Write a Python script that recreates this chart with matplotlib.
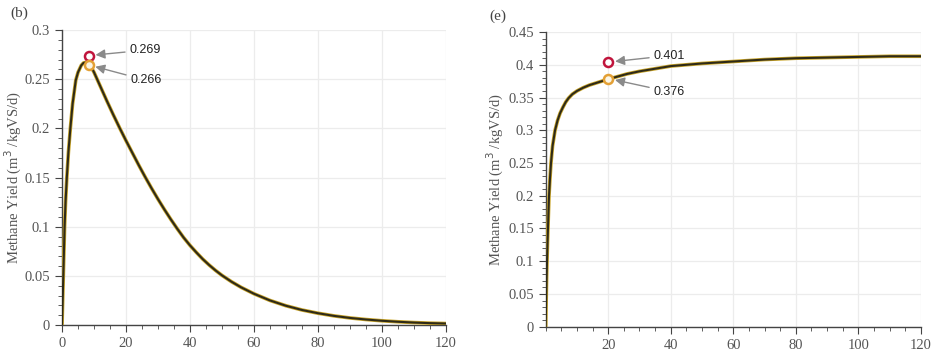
import matplotlib
matplotlib.use('Agg')
import matplotlib.pyplot as plt
from matplotlib.ticker import MultipleLocator, FixedLocator

# (b) 左パネル: ピーク後に減衰する曲線
days_b = [0, 0.2, 0.4, 0.6, 0.8, 1.1, 1.5, 2.0, 2.6, 3.3, 4.3, 5.0, 6.0, 6.7,
          7.3, 8.0, 9.0, 10.0, 12.0, 14.0, 16.0, 18.0, 20.0, 22.0, 24.0, 26.0,
          28.0, 30.0, 32.0, 34.0, 36.0, 38.0, 40.0, 42.0, 44.0, 46.0, 48.0,
          50.0, 53.0, 56.0, 60.0, 65.0, 70.0, 75.0, 80.0, 85.0, 90.0, 95.0,
          100.0, 105.0, 110.0, 115.0, 120.0]
yield_b = [0, 0.025, 0.05, 0.075, 0.10, 0.125, 0.15, 0.176, 0.20, 0.225, 0.249,
           0.257, 0.264, 0.2665, 0.267, 0.2667, 0.263, 0.257, 0.2425, 0.228,
           0.214, 0.2005, 0.1875, 0.175, 0.1625, 0.1505, 0.139, 0.128, 0.1175,
           0.1075, 0.098, 0.089, 0.081, 0.0738, 0.067, 0.061, 0.0555, 0.0505,
           0.044, 0.0383, 0.0318, 0.025, 0.0196, 0.0153, 0.012, 0.0093, 0.0072,
           0.0056, 0.0043, 0.0033, 0.0025, 0.0019, 0.0015]
marks_b_x = [8.3, 8.3]
marks_b_y = [0.274, 0.2645]
labels_b = ['0.269', '0.266']

# (e) 右パネル: 飽和する曲線
days_e = [0, 0.1, 0.2, 0.3, 0.43, 0.6, 0.8, 1.07, 1.4, 1.7, 2.2, 3.0, 3.8, 4.6,
          5.5, 6.4, 7.3, 8.5, 10.0, 12.0, 14.0, 16.0, 18.0, 20.0, 23.0, 26.0,
          30.0, 35.0, 40.0, 45.0, 50.0, 60.0, 70.0, 80.0, 90.0, 100.0, 110.0,
          120.0]
yield_e = [0, 0.025, 0.05, 0.075, 0.10, 0.13, 0.16, 0.20, 0.228, 0.25, 0.276,
           0.30, 0.315, 0.326, 0.335, 0.343, 0.349, 0.355, 0.36, 0.365, 0.369,
           0.372, 0.375, 0.378, 0.382, 0.386, 0.390, 0.394, 0.398, 0.400, 0.402,
           0.405, 0.408, 0.410, 0.411, 0.412, 0.413, 0.413]
marks_e_x = [20, 20]
marks_e_y = [0.404, 0.379]
labels_e = ['0.401', '0.376']

SERIF = ['Liberation Serif', 'DejaVu Serif']
SANS = ['Liberation Sans', 'DejaVu Sans']
TICK_COLOR = '#555555'
MARK_COLORS = ['#c0143c', '#e3a035']
MARK_FACES = ['white', '#fbf6e6']


def style_axes(ax, ymax, ystep, xticks, label_x):
    ax.set_xlim(0, 120)
    ax.set_ylim(0, ymax)
    ax.xaxis.set_major_locator(FixedLocator(xticks))
    ax.xaxis.set_minor_locator(MultipleLocator(5))
    ax.yaxis.set_major_locator(MultipleLocator(ystep))
    ax.yaxis.set_minor_locator(MultipleLocator(0.01))
    ax.grid(True, which='major', color='#ececec', lw=0.9)
    ax.set_axisbelow(True)
    for s in ['top', 'right']:
        ax.spines[s].set_visible(False)
    for s in ['left', 'bottom']:
        ax.spines[s].set_color('#444444')
        ax.spines[s].set_linewidth(1.0)
    ax.tick_params(which='major', length=5, color='#444444', labelcolor=TICK_COLOR,
                   labelsize=10.5)
    ax.tick_params(which='minor', length=3, color='#444444')
    for lab in ax.get_xticklabels() + ax.get_yticklabels():
        lab.set_family(SERIF)
    ax.yaxis.set_major_formatter(plt.FuncFormatter(lambda v, p: f'{v:g}'))
    ax.set_ylabel('Methane Yield (m$^3$ /kgVS/d)', family=SERIF, fontsize=10.5,
                  color=TICK_COLOR)
    ax.yaxis.set_label_coords(label_x, 0.5)


def draw_panel(ax, xs, ys, mx, my, labels, text_pos):
    ax.plot(xs, ys, color='#c9a52a', lw=2.6, solid_capstyle='round', zorder=3)
    ax.plot(xs, ys, color='#2e2a18', lw=1.5, zorder=4)
    for i in range(len(mx)):
        ax.plot(mx[i], my[i], 'o', ms=6.5, mfc=MARK_FACES[i], mec=MARK_COLORS[i],
                mew=1.8, zorder=5)
        ax.annotate(labels[i], xy=(mx[i], my[i]), xytext=text_pos[i],
                    ha='left', va='center', fontsize=9, family=SANS, color='#222222',
                    arrowprops=dict(arrowstyle='-|>', color='#8a8a8a', lw=1.0,
                                    mutation_scale=14, shrinkA=1, shrinkB=5),
                    zorder=6)


fig = plt.figure(figsize=(9.5, 3.6), dpi=100)
ax1 = fig.add_axes([0.0653, 0.0972, 0.404, 0.8194])
ax2 = fig.add_axes([0.5744, 0.0925, 0.395, 0.8185])

draw_panel(ax1, days_b, yield_b, marks_b_x, marks_b_y, labels_b,
           [(21.0, 0.2795), (21.3, 0.249)])
style_axes(ax1, 0.3, 0.05, [0, 20, 40, 60, 80, 100, 120], -0.10)

draw_panel(ax2, days_e, yield_e, marks_e_x, marks_e_y, labels_e,
           [(34.4, 0.414), (34.4, 0.359)])
style_axes(ax2, 0.45, 0.05, [20, 40, 60, 80, 100, 120], -0.107)

fig.text(0.011, 0.952, '(b)', family=SERIF, fontsize=11, color='#444444')
fig.text(0.515, 0.945, '(e)', family=SERIF, fontsize=11, color='#444444')

fig.savefig('out.png', dpi=100)
